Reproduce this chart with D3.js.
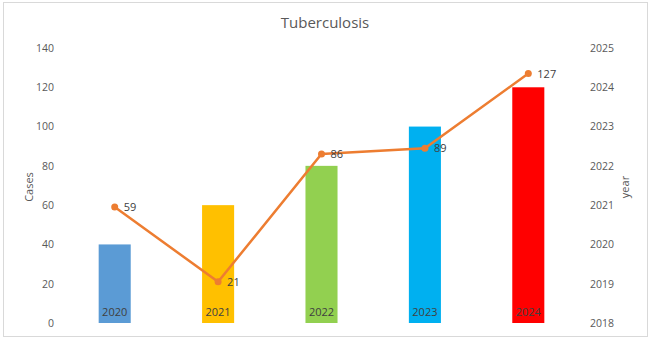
<!DOCTYPE html>
<html>
<head>
<meta charset="utf-8">
<script src="https://cdn.jsdelivr.net/npm/d3@7"></script>
<style>
  body { margin: 0; background: #fff; }
  text { font-family: "Open Sans", sans-serif; }
</style>
</head>
<body>
<script>
// chart data
var years = [2020, 2021, 2022, 2023, 2024];
var cases = [59, 21, 86, 89, 127];
var barColors = ["#5B9BD5", "#FFC000", "#92D050", "#00B0F0", "#FF0000"];
var leftTicks = [0, 20, 40, 60, 80, 100, 120, 140];
var rightTicks = [2018, 2019, 2020, 2021, 2022, 2023, 2024, 2025];

var svg = d3.select("body")
    .append("svg")
    .attr("width", 650)
    .attr("height", 341);

// outer frame
svg.append("rect")
    .attr("x", 3.5).attr("y", 2.5)
    .attr("width", 644).attr("height", 334)
    .attr("fill", "#fff")
    .attr("stroke", "#d9d9d9");

var x = d3.scaleBand()
    .domain(years)
    .range([63, 580])
    .paddingInner(0.69)
    .paddingOuter(0.345);

var yLeft = d3.scaleLinear().domain([0, 140]).range([323, 48]);
var yRight = d3.scaleLinear().domain([2018, 2025]).range([323, 48]);

// title
svg.append("text")
    .attr("x", 325).attr("y", 28)
    .attr("text-anchor", "middle")
    .attr("font-size", 15)
    .attr("fill", "#595959")
    .text("Tuberculosis");

// left axis
var leftAxis = svg.append("g")
    .attr("transform", "translate(54,0)")
    .call(d3.axisLeft(yLeft).tickValues(leftTicks).tickSize(0).tickPadding(0));
leftAxis.select(".domain").remove();
leftAxis.selectAll("text").attr("fill", "#595959").attr("font-size", 10.5)
    .style("font-family", "'Open Sans', sans-serif");

// right axis
var rightAxis = svg.append("g")
    .attr("transform", "translate(590,0)")
    .call(d3.axisRight(yRight).tickValues(rightTicks).tickFormat(d3.format("d")).tickSize(0).tickPadding(0));
rightAxis.select(".domain").remove();
rightAxis.selectAll("text").attr("fill", "#595959").attr("font-size", 10.5)
    .style("font-family", "'Open Sans', sans-serif");

// axis titles
svg.append("text")
    .attr("transform", "translate(33,187) rotate(-90)")
    .attr("text-anchor", "middle")
    .attr("font-size", 11)
    .attr("fill", "#595959")
    .text("Cases");

svg.append("text")
    .attr("transform", "translate(629,187) rotate(-90)")
    .attr("text-anchor", "middle")
    .attr("font-size", 11)
    .attr("fill", "#595959")
    .text("year");

// bars (year values on the secondary axis)
svg.selectAll("rect.bar")
    .data(years)
    .join("rect")
    .attr("class", "bar")
    .attr("x", d => x(d))
    .attr("width", x.bandwidth())
    .attr("y", d => yRight(d))
    .attr("height", d => yRight(2018) - yRight(d))
    .attr("fill", (d, i) => barColors[i]);

// year labels inside the base of the bars
svg.selectAll("text.barlabel")
    .data(years)
    .join("text")
    .attr("class", "barlabel")
    .attr("x", d => x(d) + x.bandwidth() / 2)
    .attr("y", 316)
    .attr("text-anchor", "middle")
    .attr("font-size", 11)
    .attr("fill", "#404040")
    .text(d => d);

// cases line
var line = d3.line()
    .x((d, i) => x(years[i]) + x.bandwidth() / 2)
    .y(d => yLeft(d));

svg.append("path")
    .datum(cases)
    .attr("d", line)
    .attr("fill", "none")
    .attr("stroke", "#ED7D31")
    .attr("stroke-width", 2.5);

svg.selectAll("circle")
    .data(cases)
    .join("circle")
    .attr("cx", (d, i) => x(years[i]) + x.bandwidth() / 2)
    .attr("cy", d => yLeft(d))
    .attr("r", 3.5)
    .attr("fill", "#ED7D31");

svg.selectAll("text.caselabel")
    .data(cases)
    .join("text")
    .attr("class", "caselabel")
    .attr("x", (d, i) => x(years[i]) + x.bandwidth() / 2 + 9)
    .attr("y", d => yLeft(d) + 4)
    .attr("font-size", 11)
    .attr("fill", "#404040")
    .text(d => d);
</script>
</body>
</html>
